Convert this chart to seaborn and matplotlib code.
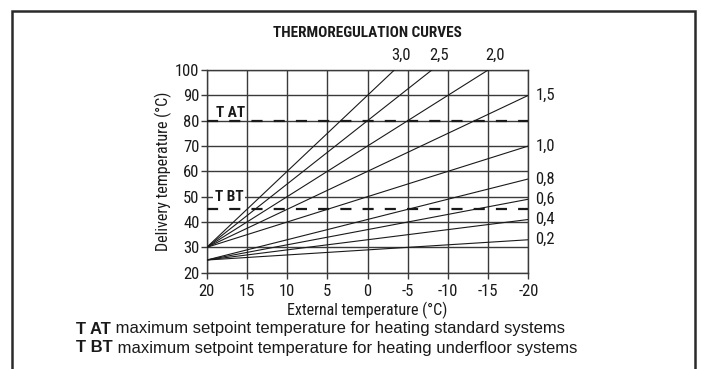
import matplotlib
matplotlib.use("Agg")
import matplotlib.pyplot as plt
import seaborn as sns
import pandas as pd
from matplotlib.patches import Rectangle
from matplotlib.transforms import offset_copy

# Heating curves: slope, its label, and delivery temperature at 20 °C outside
slopes = [3.0, 2.5, 2.0, 1.5, 1.0, 0.8, 0.6, 0.4, 0.2]
slope_labels = ["3,0", "2,5", "2,0", "1,5", "1,0", "0,8", "0,6", "0,4", "0,2"]
base_delivery = [30, 30, 30, 30, 30, 25, 25, 25, 25]
external_range = [20, -20]

# Maximum setpoints
t_at = 80
t_bt = 45

x_ticks = [20, 15, 10, 5, 0, -5, -10, -15, -20]
y_ticks = [20, 30, 40, 50, 60, 70, 80, 90, 100]
y_max = 100

rows = []
for k, lab, base in zip(slopes, slope_labels, base_delivery):
    for t in external_range:
        rows.append({"external": t,
                     "delivery": base + k * (external_range[0] - t),
                     "curve": lab})
curves = pd.DataFrame(rows)

sns.set_theme(style="white")
narrow = ["Roboto Condensed", "DejaVu Sans"]
regular = ["Liberation Sans", "DejaVu Sans"]
plt.rcParams["font.family"] = narrow
ink = "#1a1a1a"
grid_c = "#3a3a3a"
fs = 11
fs_num = 12

fig = plt.figure(figsize=(7.01, 3.69), dpi=100)
ax = fig.add_axes([0.2949, 0.2610, 0.4588, 0.5493])

sns.lineplot(data=curves, x="external", y="delivery", hue="curve",
             hue_order=slope_labels,
             palette={lab: ink for lab in slope_labels},
             linewidth=0.8, legend=False, ax=ax, zorder=3)

ax.set_xlim(external_range[0], external_range[1])
ax.set_ylim(y_ticks[0], y_max)
ax.set_xticks(x_ticks)
ax.set_xticklabels([str(v) for v in x_ticks])
ax.set_yticks(y_ticks)
ax.grid(True, color=grid_c, linewidth=1.0)
ax.set_axisbelow(True)
for s in ax.spines.values():
    s.set_color(grid_c)
    s.set_linewidth(1.0)
ax.tick_params(axis="both", which="major", bottom=True, left=True,
               direction="out", length=4, width=1.0, color=grid_c,
               labelsize=fs_num, labelcolor=ink)
ax.tick_params(axis="x", pad=4)
ax.tick_params(axis="y", pad=1.2)
ax.set_xlabel("External temperature (°C)", fontsize=11.5, color=ink, labelpad=2)
ax.set_ylabel("Delivery temperature (°C)", fontsize=11.5, color=ink, labelpad=2)

# Setpoint lines
dash = (0, (5, 5))
ax.axhline(t_at, color=ink, linewidth=1.6, linestyle=dash, zorder=4)
ax.axhline(t_bt, color=ink, linewidth=1.6, linestyle=dash, zorder=4)
ax.text(18.8, t_at + 1.3, "T AT", fontsize=fs, fontweight="bold",
        color=ink, ha="left", va="baseline", zorder=5)
ax.text(19.0, 50, "T BT", fontsize=fs, fontweight="bold", color=ink,
        ha="left", va="center", zorder=5,
        bbox=dict(facecolor="white", edgecolor="none", pad=1.2))

# Curve labels: at the top edge for steep curves, at the right edge otherwise
top_off = offset_copy(ax.transData, fig=fig, x=7, y=15, units="dots")
right_off = offset_copy(ax.transData, fig=fig, x=7, y=0, units="dots")
for k, lab, base in zip(slopes, slope_labels, base_delivery):
    end_val = base + k * (external_range[0] - external_range[1])
    if end_val > y_max:
        t_exit = external_range[0] - (y_max - base) / k
        ax.text(t_exit, y_max, lab, transform=top_off, fontsize=fs_num,
                color=ink, ha="center", va="center", clip_on=False)
    else:
        ax.text(external_range[1], end_val, lab, transform=right_off,
                fontsize=fs_num, color=ink, ha="left", va="center",
                clip_on=False)

fig.text(0.5235, 0.9106, "THERMOREGULATION CURVES", fontsize=fs,
         fontweight="bold", color=ink, ha="center", va="center")

# Outer frame
fig.patches.append(Rectangle((12 / 701, -0.2), 683 / 701, 1.2 - 11 / 369,
                             transform=fig.transFigure, fill=False,
                             edgecolor="#2a2a2a", linewidth=1.8))

# Footnotes
for y_px, key, desc in [(329, "T AT", " maximum setpoint temperature for heating standard systems"),
                         (348, "T BT", " maximum setpoint temperature for heating underfloor systems")]:
    t = fig.text(76 / 701, 1 - y_px / 369, key, fontsize=12, fontweight="bold",
                 family=regular, color=ink, ha="left", va="center")
    fig.canvas.draw()
    bb = t.get_window_extent()
    fig.text(bb.x1 / 701, 1 - y_px / 369, desc, fontsize=12, family=regular,
             color=ink, ha="left", va="center")

fig.savefig("out.png", dpi=100, facecolor="white")
